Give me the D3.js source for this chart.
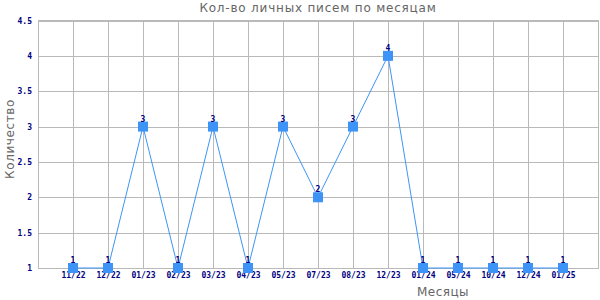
<!DOCTYPE html>
<html><head><meta charset="utf-8">
<script src="https://cdn.jsdelivr.net/npm/d3@7"></script>
<style>body{margin:0;background:#fff}svg{display:block}</style>
</head><body><svg id="c" width="600" height="300"></svg>
<script>
const months = ["11/22","12/22","01/23","02/23","03/23","04/23","05/23","07/23","08/23","12/23","01/24","05/24","10/24","12/24","01/25"];
const counts = [1,1,3,1,3,1,3,2,3,4,1,1,1,1,1];
const yTicks = [1,1.5,2,2.5,3,3.5,4,4.5];
const title = "Кол-во личных писем по месяцам";
const xTitle = "Месяцы";
const yTitle = "Количество";

const svg = d3.select("#c");
const L=38, R=598, T=20.5, B=268;
const x = d3.scalePoint().domain(months).range([L,R]).padding(1);
const y = d3.scaleLinear().domain([1,4.5]).range([B,T]);
const grid="#b9b9b9", navy="#000080", blue="#3d94f6";
const tickFont = "'DejaVu Sans Mono', monospace";

// horizontal grid
const gy = svg.append("g")
  .attr("transform",`translate(${L},0)`)
  .call(d3.axisLeft(y).tickValues(yTicks).tickSize(-(R-L)).tickFormat(d=>d3.format("~g")(d)).tickPadding(6));
gy.select(".domain").remove();
gy.selectAll("line").attr("stroke",grid).attr("shape-rendering","crispEdges");
gy.selectAll("text").attr("fill",navy).attr("font-family",tickFont).attr("font-size",8).attr("font-weight","bold");

// vertical grid + x labels
const gx = svg.append("g")
  .attr("transform",`translate(0,${B})`)
  .call(d3.axisBottom(x).tickSize(-(B-T)).tickPadding(4));
gx.select(".domain").remove();
gx.selectAll("line").attr("stroke",grid).attr("shape-rendering","crispEdges");
gx.selectAll("text").attr("fill",navy).attr("font-family",tickFont).attr("font-size",8).attr("font-weight","bold");

// frame
svg.append("rect").attr("x",L).attr("y",T).attr("width",R-L).attr("height",B-T)
  .attr("fill","none").attr("stroke",grid).attr("shape-rendering","crispEdges");

// line
svg.append("path").datum(counts)
  .attr("d", d3.line().x((d,i)=>x(months[i])).y(d=>y(d)))
  .attr("fill","none").attr("stroke",blue).attr("stroke-width",1);

// markers
svg.append("g").selectAll("rect").data(counts).join("rect")
  .attr("x",(d,i)=>x(months[i])-5).attr("y",d=>y(d)-5)
  .attr("width",10).attr("height",10).attr("fill",blue);

// value labels
svg.append("g").selectAll("text").data(counts).join("text")
  .attr("x",(d,i)=>x(months[i])).attr("y",d=>y(d)-5)
  .attr("text-anchor","middle").attr("fill",navy)
  .attr("font-family",tickFont).attr("font-size",8).attr("font-weight","bold")
  .text(d=>d);

// titles
svg.append("text").attr("x",318).attr("y",12).attr("text-anchor","middle")
  .attr("fill","#666").attr("font-family","'DejaVu Sans', sans-serif").attr("font-size",12)
  .attr("letter-spacing",0.8).text(title);
svg.append("text").attr("x",443).attr("y",296).attr("text-anchor","middle")
  .attr("fill","#666").attr("font-family","'DejaVu Sans', sans-serif").attr("font-size",12)
  .attr("letter-spacing",0.5).text(xTitle);
svg.append("text").attr("transform","translate(14,139) rotate(-90)").attr("text-anchor","middle")
  .attr("fill","#666").attr("font-family","'DejaVu Sans', sans-serif").attr("font-size",12)
  .attr("letter-spacing",0.6).text(yTitle);
</script></body></html>
